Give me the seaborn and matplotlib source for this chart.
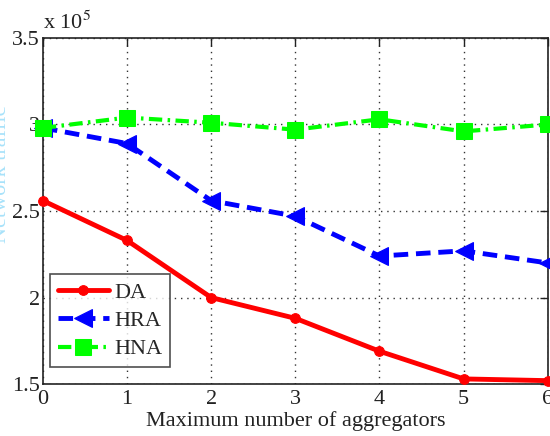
import matplotlib
matplotlib.use("Agg")
import matplotlib.pyplot as plt
import seaborn as sns
import pandas as pd
from matplotlib.ticker import FuncFormatter

# Data
aggregators = [0, 1, 2, 3, 4, 5, 6]
da_values = [256000, 233000, 200000, 188000, 169000, 153000, 152000]
hra_values = [298000, 289000, 256000, 247000, 224000, 227000, 220000]
hna_values = [298000, 304000, 301000, 297000, 303000, 296000, 300000]
series_names = ["DA", "HRA", "HNA"]
x_ticks = [0, 1, 2, 3, 4, 5, 6]
y_ticks = [150000, 200000, 250000, 300000, 350000]

sns.set_theme(style="white")
plt.rcParams["font.family"] = ["Liberation Serif", "DejaVu Serif"]
plt.rcParams["mathtext.fontset"] = "stix"

fig = plt.figure(figsize=(5.5, 4.36), dpi=100)
ax = fig.add_axes([0.078, 0.119, 0.918, 0.794])

df = pd.DataFrame({"x": aggregators, "DA": da_values, "HRA": hra_values, "HNA": hna_values})

styles = {
    "DA": dict(color="#ff0000", linestyle="-", marker="o", markersize=7, linewidth=3.5),
    "HRA": dict(color="#0000ff", linestyle=(0, (3, 1.6)), marker="<", markersize=13, linewidth=3.5),
    "HNA": dict(color="#00ff00", linestyle=(0, (3.2, 1.3, 0.6, 1.3)), marker="s", markersize=11, linewidth=3.0),
}
for name in series_names:
    st = styles[name]
    sns.lineplot(data=df, x="x", y=name, ax=ax, label=name, color=st["color"],
                 linewidth=st["linewidth"], marker=st["marker"], markersize=st["markersize"],
                 markeredgecolor=st["color"], markerfacecolor=st["color"], clip_on=False, zorder=3)
    ax.lines[-1].set_linestyle(st["linestyle"])

ax.set_xlim(0, 6)
ax.set_ylim(150000, 350000)
ax.set_xticks(x_ticks)
ax.set_yticks(y_ticks)
ax.yaxis.set_major_formatter(FuncFormatter(lambda v, p: f"{v/1e5:g}"))
ax.tick_params(axis="both", direction="in", length=6, width=1, labelsize=16,
               top=True, right=True, colors="#222222")
ax.tick_params(axis="x", pad=4)
ax.tick_params(axis="y", pad=2)
ax.grid(True, color="#333333", linestyle=(0, (1, 3.5)), linewidth=1.0)
for s in ax.spines.values():
    s.set_color("#222222")
    s.set_linewidth(1.2)
ax.set_xlabel("Maximum number of aggregators", fontsize=16, labelpad=2, color="#222222")
ax.set_ylabel("")
ax.text(0.0, 1.01, r"x 10$^5$", transform=ax.transAxes, fontsize=16, ha="left", va="bottom", color="#222222")
fig.text(-0.014, 0.6, "Network traffic", rotation=90, fontsize=16, color="#a8e2fa", ha="left", va="center")

leg = ax.legend(loc="lower left", bbox_to_anchor=(0.014, 0.049), borderaxespad=0, fontsize=16, frameon=True,
                fancybox=False, edgecolor="#222222", handlelength=2.3, handletextpad=0.25,
                labelspacing=0.35, borderpad=0.35)
leg.get_frame().set_linewidth(1.2)
for h, name in zip(leg.legend_handles, series_names):
    h.set_linestyle(styles[name]["linestyle"])

fig.savefig("out.png", dpi=100)
